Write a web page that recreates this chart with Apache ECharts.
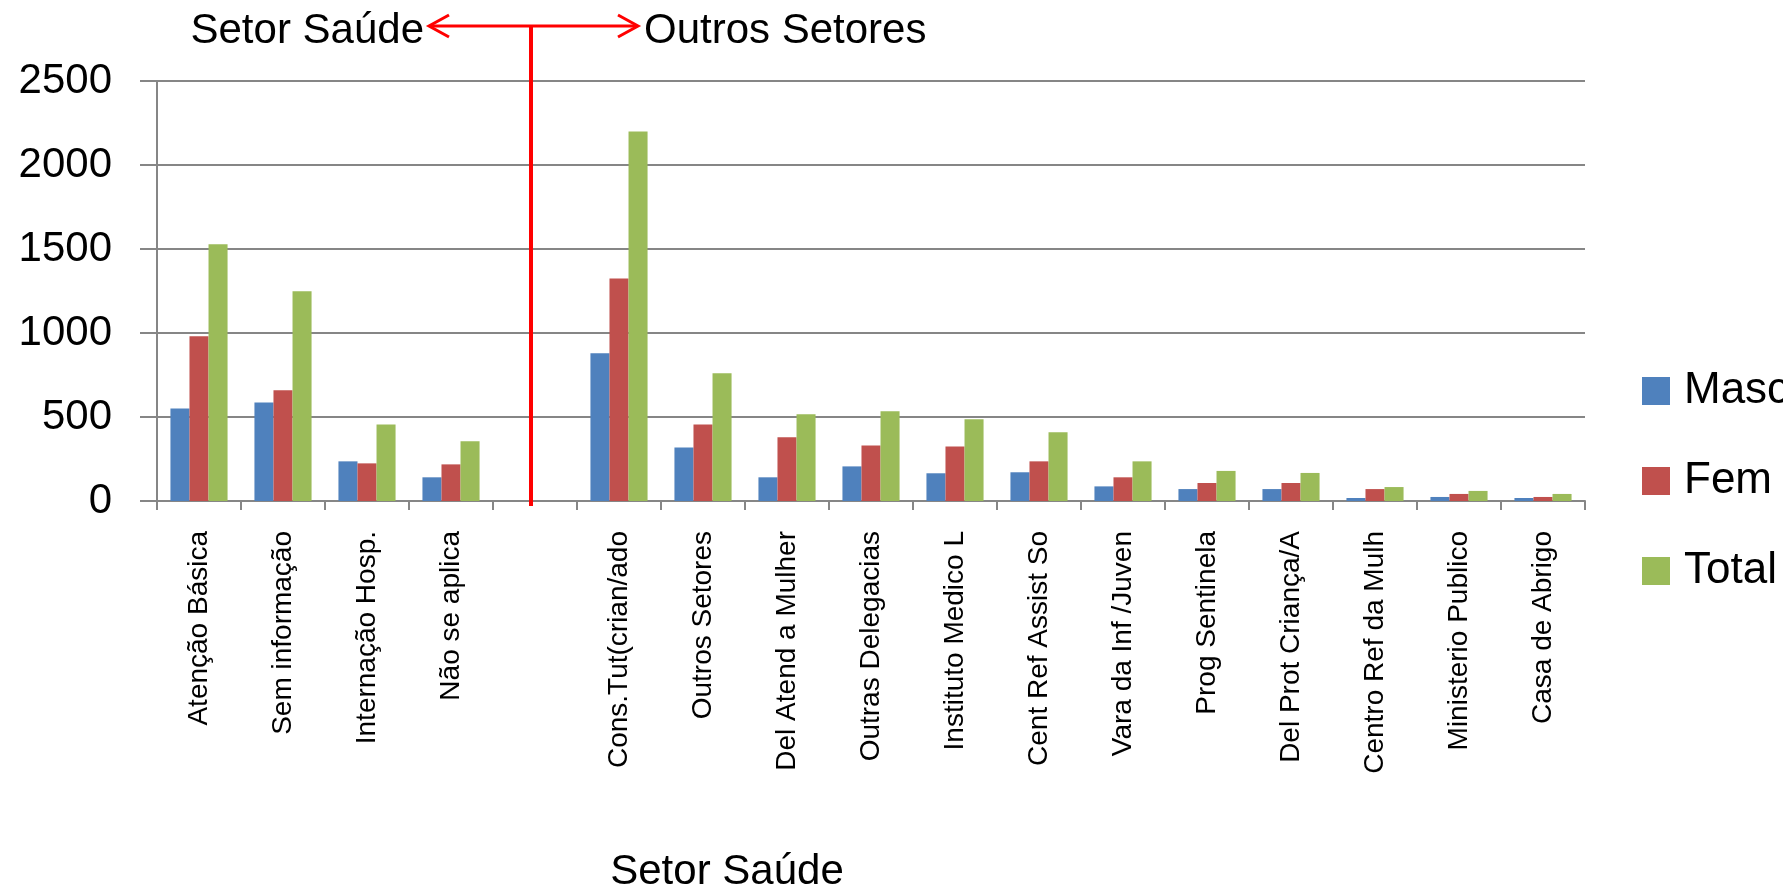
<!DOCTYPE html>
<html>
<head>
<meta charset="utf-8">
<script src="https://cdn.jsdelivr.net/npm/echarts@6/dist/echarts.min.js"></script>
<style>
html,body{margin:0;padding:0;background:#fff;}
#main{width:1783px;height:891px;}
</style>
</head>
<body>
<div id="main"></div>
<script>
const categories = ['Atenção Básica','Sem informação','Internação Hosp.','Não se aplica','','Cons.Tut(crian/ado','Outros Setores','Del Atend a Mulher','Outras Delegacias','Instituto Medico L','Cent Ref Assist So','Vara da Inf /Juven','Prog Sentinela','Del Prot Criança/A','Centro Ref da Mulh','Ministerio Publico','Casa de Abrigo'];
const masc  = [550, 587, 236, 141, null, 879, 319, 141, 206, 165, 171, 87, 71, 71, 18, 24, 18];
const fem   = [980, 659, 224, 218, null, 1325, 456, 379, 331, 325, 236, 141, 107, 107, 71, 42, 24];
const total = [1528, 1248, 456, 355, null, 2200, 760, 516, 534, 486, 409, 236, 179, 167, 83, 60, 42];
const seriesNames = ['Masc', 'Fem', 'Total'];
const yTicks = [0, 500, 1000, 1500, 2000, 2500];
const dividerIndex = 4;
const topLeftText = 'Setor Saúde';
const topRightText = 'Outros Setores';
const xAxisTitle = 'Setor Saúde';

const FONT = '"Liberation Sans", Arial, sans-serif';
const GRAY = '#868686';
const colors = ['#4F81BD', '#C0504D', '#9BBB59'];

const chart = echarts.init(document.getElementById('main'), null, {renderer: 'canvas'});
const option = {
  animation: false,
  backgroundColor: '#fff',
  color: colors,
  textStyle: {fontFamily: FONT},
  grid: {left: 157, right: 198, top: 81, bottom: 390, containLabel: false},
  legend: {
    orient: 'vertical',
    left: 1637,
    top: 364,
    itemWidth: 28,
    itemHeight: 28,
    itemGap: 46,
    icon: 'rect',
    data: seriesNames,
    textStyle: {fontFamily: FONT, fontSize: 44, color: '#000', lineHeight: 28, padding: [0, 0, 0, 9]}
  },
  xAxis: {
    type: 'category',
    data: categories,
    boundaryGap: true,
    axisLine: {show: true, lineStyle: {color: GRAY, width: 2}},
    axisTick: {show: true, length: 9, lineStyle: {color: GRAY, width: 2}},
    axisLabel: {rotate: 90, margin: 30, fontFamily: FONT, fontSize: 28, color: '#000', interval: 0}
  },
  yAxis: {
    type: 'value',
    min: yTicks[0],
    max: yTicks[yTicks.length - 1],
    interval: yTicks[1] - yTicks[0],
    axisLine: {show: true, lineStyle: {color: GRAY, width: 2}},
    axisTick: {show: true, length: 17, lineStyle: {color: GRAY, width: 2}},
    splitLine: {show: true, lineStyle: {color: GRAY, width: 2}},
    axisLabel: {margin: 45, fontFamily: FONT, fontSize: 42, color: '#000', formatter: v => String(v)}
  },
  series: [
    {name: seriesNames[0], type: 'bar', data: masc, barGap: '0%', barCategoryGap: '32%'},
    {name: seriesNames[1], type: 'bar', data: fem, barGap: '0%', barCategoryGap: '32%'},
    {name: seriesNames[2], type: 'bar', data: total, barGap: '0%', barCategoryGap: '32%'}
  ]
};
chart.setOption(option);

const xc = chart.convertToPixel({xAxisIndex: 0}, dividerIndex) - 4;
const y0 = chart.convertToPixel({yAxisIndex: 0}, 0);
const yArrow = 26;
const leftTip = xc - 102, rightTip = xc + 107;
const RED = '#FF0000';
chart.setOption({
  graphic: [
    {type: 'line', z: 100, shape: {x1: xc, y1: yArrow - 1, x2: xc, y2: y0 + 5}, style: {stroke: RED, lineWidth: 4}},
    {type: 'line', z: 100, shape: {x1: leftTip + 1, y1: yArrow, x2: rightTip - 1, y2: yArrow}, style: {stroke: RED, lineWidth: 3}},
    {type: 'polyline', z: 100, shape: {points: [[leftTip + 20, yArrow - 11], [leftTip, yArrow], [leftTip + 20, yArrow + 11]]}, style: {stroke: RED, lineWidth: 3, fill: null}},
    {type: 'polyline', z: 100, shape: {points: [[rightTip - 20, yArrow - 11], [rightTip, yArrow], [rightTip - 20, yArrow + 11]]}, style: {stroke: RED, lineWidth: 3, fill: null}},
    {type: 'text', z: 100, x: leftTip - 5, y: 31, style: {text: topLeftText, font: '42px ' + FONT, fill: '#000', align: 'right', verticalAlign: 'middle'}},
    {type: 'text', z: 100, x: rightTip + 6, y: 31, style: {text: topRightText, font: '42px ' + FONT, fill: '#000', align: 'left', verticalAlign: 'middle'}},
    {type: 'text', z: 100, x: 727, y: 872, style: {text: xAxisTitle, font: '42px ' + FONT, fill: '#000', align: 'center', verticalAlign: 'middle'}}
  ]
});
</script>
</body>
</html>
